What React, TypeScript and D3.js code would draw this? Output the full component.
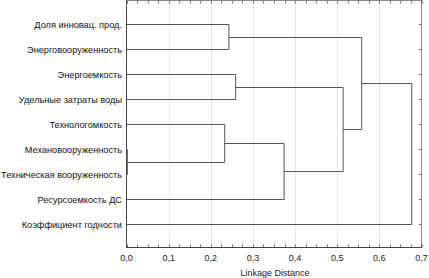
import React from "react";
import * as d3 from "d3";

const leaves = [
  "Доля инновац. прод.",
  "Энерговооруженность",
  "Энергоемкость",
  "Удельные затраты воды",
  "Технологомкость",
  "Механовооруженность",
  "Техническая вооруженность",
  "Ресурсоемкость ДС",
  "Коэффициент годности",
];
// merge steps: cluster ids 0..8 are leaves, 9+ are merges in order
const mergeLeft = [5, 4, 0, 2, 10, 12, 11, 15];
const mergeRight = [6, 9, 1, 3, 7, 13, 14, 8];
const mergeHeight = [0.002, 0.233, 0.243, 0.259, 0.374, 0.514, 0.558, 0.677];
const xTicks = [0, 0.1, 0.2, 0.3, 0.4, 0.5, 0.6, 0.7];

export default function App() {
  const W = 429, H = 278;
  const x = d3.scaleLinear().domain([0, 0.7]).range([126.5, 421.5]);
  const y = d3.scalePoint<string>().domain(leaves).range([24, 224]);
  const top = 0.5, bottom = 247.5;

  const nodeX: number[] = leaves.map(() => 0);
  const nodeY: number[] = leaves.map((l) => y(l) as number);
  const segs: { x1: number; y1: number; x2: number; y2: number }[] = [];
  mergeLeft.forEach((a, i) => {
    const b = mergeRight[i];
    const h = mergeHeight[i];
    segs.push({ x1: x(nodeX[a]), y1: nodeY[a], x2: x(h), y2: nodeY[a] });
    segs.push({ x1: x(nodeX[b]), y1: nodeY[b], x2: x(h), y2: nodeY[b] });
    segs.push({ x1: x(h), y1: nodeY[a], x2: x(h), y2: nodeY[b] });
    nodeX.push(h);
    nodeY.push((nodeY[a] + nodeY[b]) / 2);
  });

  const minor = d3.range(0, 0.7001, 0.025);
  const fmt = (v: number) => v.toFixed(1).replace(".", ",");
  const font = "'Liberation Sans', Arial, sans-serif";

  return (
    <svg width={W} height={H} style={{ position: "absolute", left: 0, top: 0, background: "#fff" }}>
      {xTicks.slice(1, -1).map((t) => (
        <line key={"g" + t} x1={Math.round(x(t)) + 0.5} x2={Math.round(x(t)) + 0.5} y1={top} y2={bottom} stroke="#e6e6e6" />
      ))}
      {minor.map((t, i) => (
        <g key={"m" + i}>
          <line x1={Math.round(x(t)) + 0.5} x2={Math.round(x(t)) + 0.5} y1={bottom} y2={bottom - 3} stroke="#777" />
          <line x1={Math.round(x(t)) + 0.5} x2={Math.round(x(t)) + 0.5} y1={top} y2={top + 3} stroke="#777" />
        </g>
      ))}
      {leaves.map((l) => (
        <line key={"r" + l} x1={421.5} x2={418.5} y1={(y(l) as number) + 0.5} y2={(y(l) as number) + 0.5} stroke="#777" />
      ))}
      <rect x={126.5} y={top} width={295} height={bottom - top} fill="none" stroke="#888" />
      {segs.map((s, i) => (
        <line key={"s" + i} x1={s.x1} y1={Math.round(s.y1) + 0.5} x2={s.x2} y2={Math.round(s.y2) + 0.5} stroke="#555" strokeWidth={1} />
      ))}
      <line x1={126.5} x2={126.5} y1={top} y2={bottom} stroke="#444" />
      <line x1={126.5} x2={421.5} y1={bottom} y2={bottom} stroke="#444" />
      {leaves.map((l) => (
        <text key={"t" + l} x={122} y={(y(l) as number) + 3.5} textAnchor="end" fontFamily={font} fontSize={9.2} fill="#111">
          {l}
        </text>
      ))}
      {xTicks.map((t) => (
        <text key={"x" + t} x={x(t)} y={261} textAnchor="middle" fontFamily={font} fontSize={9} fill="#222">
          {fmt(t)}
        </text>
      ))}
      <text x={275} y={276} textAnchor="middle" fontFamily={font} fontSize={9} fill="#222">
        Linkage Distance
      </text>
    </svg>
  );
}
